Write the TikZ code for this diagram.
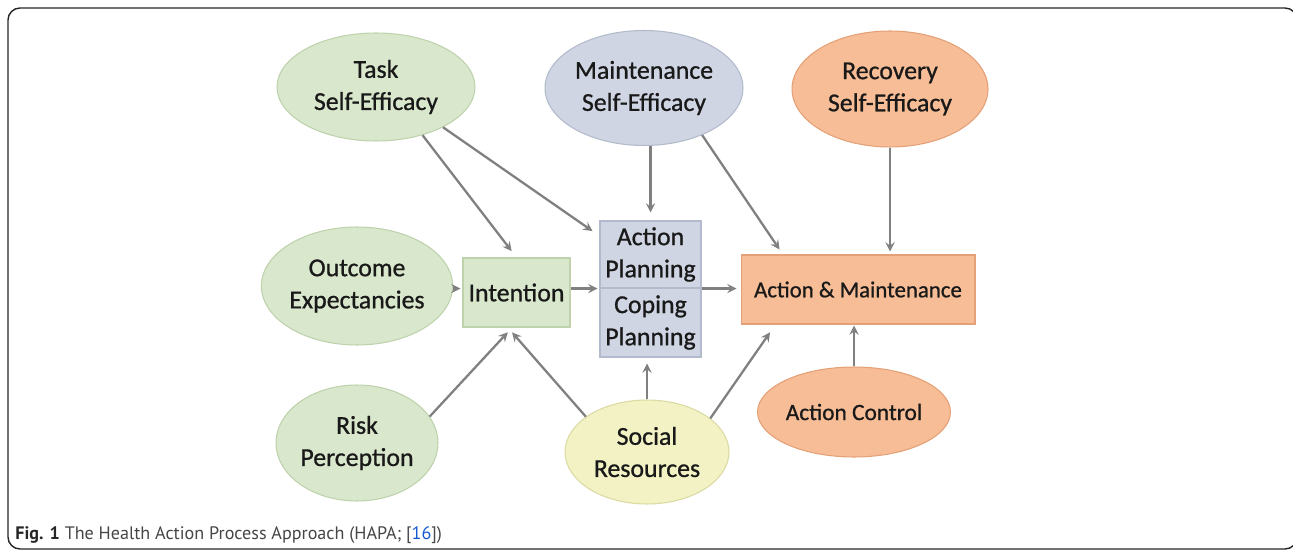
\documentclass[tikz,border=0pt]{standalone}
\usepackage{fontspec}
\setmainfont{Carlito}
\newfontfamily\nodefont{Carlito}[FakeBold=0.8]
\newfontfamily\captionfont{PT Sans}
\usetikzlibrary{shapes.geometric, arrows}
\definecolor{greenfill}{RGB}{217,231,204}
\definecolor{greenedge}{RGB}{190,210,172}
\definecolor{bluefill}{RGB}{207,213,226}
\definecolor{blueedge}{RGB}{178,186,204}
\definecolor{peachfill}{RGB}{247,189,150}
\definecolor{peachedge}{RGB}{228,160,118}
\definecolor{yellowfill}{RGB}{242,242,196}
\definecolor{yellowedge}{RGB}{218,218,162}
\definecolor{arrowgray}{RGB}{128,128,128}
\definecolor{captiongray}{RGB}{70,70,70}
\definecolor{linkblue}{RGB}{20,90,210}
\tikzstyle{oval} = [ellipse, inner sep=0pt, align=center, line width=0.6pt, text=black!90, font=\nodefont\fontsize{14.7}{18.3}\selectfont]
\tikzstyle{block} = [rectangle, inner sep=0pt, align=center, line width=0.6pt, text=black!90, font=\nodefont\fontsize{14.7}{18.3}\selectfont]
\tikzstyle{arrow} = [line width=1.3pt, ->, >=stealth, draw=arrowgray]
\tikzstyle{frame} = [line width=0.8pt, draw=black!85, rounded corners=0.24cm]

\begin{document}
\begin{tikzpicture}[x=0.02cm, y=-0.02cm]
\useasboundingbox (0,0) rectangle (1293,550);
\draw [frame] (8,8) rectangle (1297,549);
% ovals
\node (task) [oval, fill=greenfill, draw=greenedge, minimum width=3.96cm, minimum height=2.16cm] at (376,87) {Task\\Self-Efficacy};
\node (maint) [oval, fill=bluefill, draw=blueedge, minimum width=3.96cm, minimum height=2.3cm] at (644,88) {Maintenance\\Self-Efficacy};
\node (recov) [oval, fill=peachfill, draw=peachedge, minimum width=3.92cm, minimum height=2.32cm] at (890,89) {Recovery\\Self-Efficacy};
\node (outcome) [oval, fill=greenfill, draw=greenedge, minimum width=3.24cm, minimum height=2.36cm] at (357,286) {Outcome\\Expectancies};
\node (risk) [oval, fill=greenfill, draw=greenedge, minimum width=3.24cm, minimum height=2.32cm] at (357,443) {Risk\\Perception};
\node (social) [oval, fill=yellowfill, draw=yellowedge, minimum width=3.28cm, minimum height=2.08cm] at (647,452) {Social\\Resources};
\node (control) [oval, fill=peachfill, draw=peachedge, minimum width=3.12cm, minimum height=1.8cm, font=\nodefont\fontsize{13.3}{17}\selectfont] at (854,412) {Action Control};
% boxes
\node (intention) [block, fill=greenfill, draw=greenedge, minimum width=2.14cm, minimum height=1.38cm] at (516.5,292.5) {Intention};
\node (actplan) [block, fill=bluefill, draw=blueedge, minimum width=2.02cm, minimum height=1.34cm] at (650.5,254.5) {Action\\Planning};
\node (copeplan) [block, fill=bluefill, draw=blueedge, minimum width=2.02cm, minimum height=1.38cm, below of=actplan, node distance=1.36cm] {Coping\\Planning};
\node (actmaint) [block, fill=peachfill, draw=peachedge, minimum width=4.68cm, minimum height=1.38cm, font=\nodefont\fontsize{13}{17}\selectfont] at (858,289.5) {Action \& Maintenance};
% arrows
\draw [arrow, shorten >=0.16cm] (task.-46) -- (intention.north);
\draw [arrow, shorten >=0.17cm] (task.-31) -- (actplan.160);
\draw [arrow, shorten >=0.16cm] (actplan.north |- maint.south) -- (actplan.north);
\draw [arrow, shorten >=0.12cm] (maint.-39) -- (actmaint.155);
\draw [arrow, shorten >=0.06cm] (recov.south) -- (recov.south |- actmaint.north);
\draw [arrow, shorten >=0.04cm] (outcome.east |- actplan.south) -- (intention.west |- actplan.south);
\draw [arrow, shorten >=0.04cm] (intention.east |- actplan.south) -- (actplan.south west);
\draw [arrow, shorten >=0.08cm] (actplan.south east) -- (actmaint.west |- actplan.south);
\draw [arrow, shorten >=0.13cm] (risk.20) -- (intention.-97);
\draw [arrow, shorten >=0.13cm] (social.150) -- (intention.-104);
\draw [arrow, shorten >=0.12cm] (social.north) -- (social.north |- copeplan.south);
\draw [arrow, shorten >=0.19cm] (social.28) -- (actmaint.-157);
\draw [arrow, shorten >=0.02cm] (control.north) -- (control.north |- actmaint.south);
% caption
\node (caption) [anchor=base west, inner sep=0pt, text=captiongray, font=\captionfont\fontsize{10.3}{12}\selectfont] at (15,539) {\textbf{\color{black!85}Fig. 1} The Health Action Process Approach (HAPA; [\textcolor{linkblue}{16}])};
\end{tikzpicture}
\end{document}
